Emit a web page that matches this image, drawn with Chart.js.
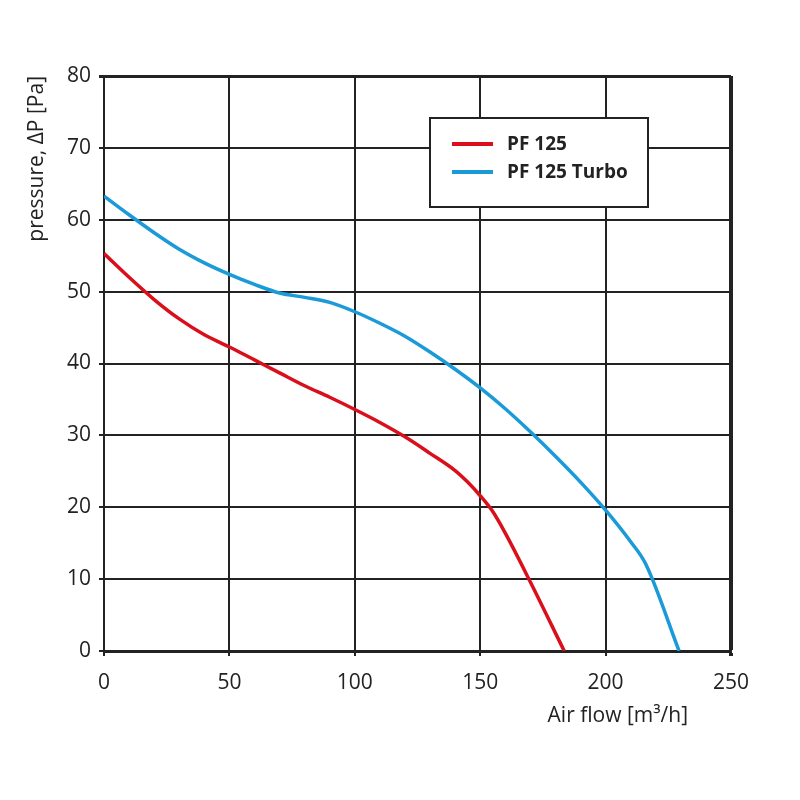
<!DOCTYPE html>
<html>
<head>
<meta charset="utf-8">
<script src="https://cdn.jsdelivr.net/npm/chart.js@4.4.1/dist/chart.umd.min.js"></script>
<style>
  html, body { margin: 0; padding: 0; background: #fff; }
  #wrap { position: relative; width: 800px; height: 800px; }
</style>
</head>
<body>
<div id="wrap"><canvas id="c" width="800" height="800"></canvas></div>
<script>
// ---- data ----
const seriesNames = ['PF 125', 'PF 125 Turbo'];
const pf125Flow     = [0, 10, 20, 30, 40, 50, 60, 70, 80, 90, 100, 110, 120, 130, 140, 145, 150, 155, 160, 170, 183.5];
const pf125Pressure = [55.3, 52.0, 48.9, 46.2, 44.0, 42.3, 40.5, 38.7, 36.9, 35.3, 33.6, 31.8, 29.8, 27.5, 25.1, 23.5, 21.6, 19.4, 16.4, 9.6, 0];
const turboFlow     = [0, 10, 20, 30, 40, 50, 60, 70, 80, 90, 100, 110, 120, 130, 140, 150, 160, 170, 180, 190, 200, 210, 216, 229.3];
const turboPressure = [63.3, 60.7, 58.2, 55.9, 54.0, 52.4, 51.0, 49.8, 49.2, 48.5, 47.2, 45.6, 43.8, 41.6, 39.2, 36.6, 33.7, 30.5, 27.1, 23.5, 19.6, 15.2, 12.1, 0];
const xTicks = [0, 50, 100, 150, 200, 250];
const yTicks = [0, 10, 20, 30, 40, 50, 60, 70, 80];
const xTitle = 'Air flow [m³/h]';
const yTitle = 'pressure, ΔP [Pa]';

const toPoints = (xs, ys) => xs.map((x, i) => ({ x: x, y: ys[i] }));
const FONT = "'Open Sans', 'Noto Sans', sans-serif";
const GRID = '#222';

const legendPlugin = {
  id: 'boxLegend',
  afterDraw(chart) {
    const ctx = chart.ctx, a = chart.chartArea;
    const left = a.left + 326, top = a.top + 42, w = 218, h = 89;
    ctx.save();
    ctx.fillStyle = '#fff';
    ctx.fillRect(left, top, w, h);
    ctx.strokeStyle = GRID;
    ctx.lineWidth = 2;
    ctx.strokeRect(left, top, w, h);
    chart.data.datasets.forEach((ds, i) => {
      const y = top + 26 + i * 28;
      ctx.strokeStyle = ds.borderColor;
      ctx.lineWidth = 4;
      ctx.beginPath();
      ctx.moveTo(left + 22, y);
      ctx.lineTo(left + 63, y);
      ctx.stroke();
      ctx.fillStyle = '#222';
      ctx.font = "bold 19px " + FONT;
      ctx.textBaseline = 'middle';
      ctx.textAlign = 'left';
      ctx.fillText(ds.label, left + 77, y + 1);
    });
    // x-axis title
    ctx.fillStyle = '#222';
    ctx.font = "21px " + FONT;
    ctx.textAlign = 'right';
    ctx.textBaseline = 'middle';
    ctx.fillText(xTitle, a.right - 43, a.bottom + 65);
    ctx.restore();
  }
};

new Chart(document.getElementById('c'), {
  type: 'line',
  data: {
    datasets: [
      { label: seriesNames[0], data: toPoints(pf125Flow, pf125Pressure),
        borderColor: '#d9101c', borderWidth: 3.5, pointRadius: 0, fill: false,
        cubicInterpolationMode: 'monotone' },
      { label: seriesNames[1], data: toPoints(turboFlow, turboPressure),
        borderColor: '#1a9ad8', borderWidth: 3.5, pointRadius: 0, fill: false,
        cubicInterpolationMode: 'monotone' }
    ]
  },
  options: {
    responsive: false,
    animation: false,
    layout: { padding: { top: 76, right: 69, left: 0, bottom: 0 } },
    plugins: { legend: { display: false }, tooltip: { enabled: false } },
    scales: {
      x: {
        type: 'linear', min: 0, max: 250,
        afterBuildTicks: s => { s.ticks = xTicks.map(v => ({ value: v })); },
        afterFit: s => { s.height = 149; },
        ticks: { color: '#222', font: { family: FONT, size: 21 }, padding: 14 },
        grid: {
          color: GRID, tickLength: 5,
          lineWidth: c => (c.tick && c.tick.value === 250 ? 4 : 2)
        },
        border: { color: GRID, width: 3 }
      },
      y: {
        min: 0, max: 80,
        afterBuildTicks: s => { s.ticks = yTicks.map(v => ({ value: v })); },
        afterFit: s => { s.width = 104; },
        ticks: { color: '#222', font: { family: FONT, size: 21 }, padding: 8 },
        grid: {
          color: GRID, tickLength: 5,
          lineWidth: c => (c.tick && c.tick.value === 80 ? 3 : 2)
        },
        border: { color: GRID, width: 2 },
        title: { display: true, text: yTitle, align: 'end', color: '#222',
                 font: { family: FONT, size: 21 }, padding: { top: 24, bottom: 0 } }
      }
    }
  },
  plugins: [legendPlugin]
});
</script>
</body>
</html>
